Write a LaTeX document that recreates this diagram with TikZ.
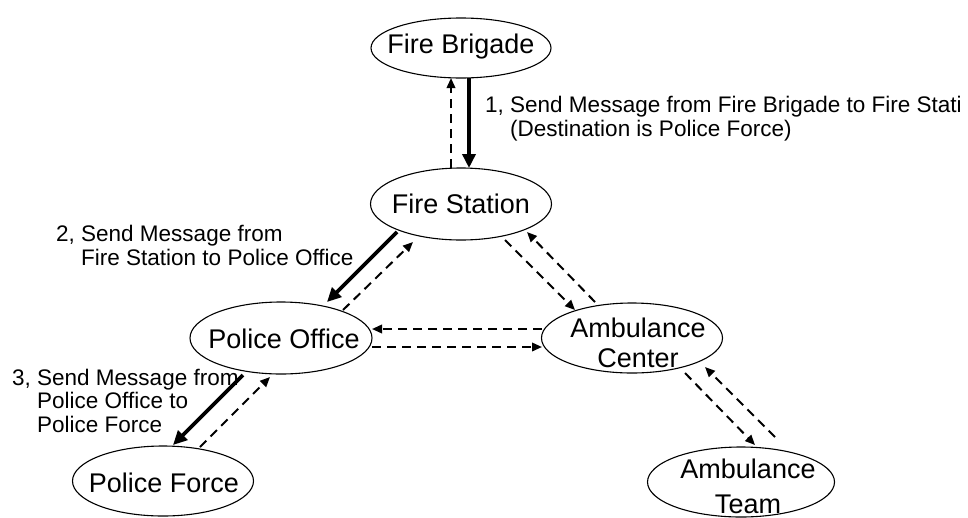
\documentclass[tikz,border=0pt]{standalone}
\usepackage{fontspec}
\setmainfont{Liberation Sans}
\usetikzlibrary{arrows.meta,calc,shapes.geometric}
\tikzset{
  ell/.style={draw, ellipse, line width=1.1pt, inner sep=0pt},
  ntext/.style={inner sep=0pt, anchor=base, align=center, font=\fontsize{27}{30}\selectfont},
  lbl/.style={inner sep=0pt, anchor=base west, align=left, font=\fontsize{22.5}{23.5}\selectfont},
  msg/.style={line width=3.6pt, -{Triangle[length=14pt,width=13pt]}},
  ack/.style={line width=2pt, dash pattern=on 9pt off 6pt, -{Triangle[length=10pt,width=8.5pt]}},
}
\begin{document}
\begin{tikzpicture}[x=1pt,y=-1pt]
\useasboundingbox (0,0) rectangle (968,517);
% ellipses
\node[ell, minimum width=180, minimum height=60] (FB) at (461,48) {};
\node[ell, minimum width=181, minimum height=72] (FS) at (461,204) {};
\node[ell, minimum width=182, minimum height=72] (PO) at (281,338) {};
\node[ell, minimum width=181, minimum height=70] (AC) at (632,338) {};
\node[ell, minimum width=181, minimum height=70] (PF) at (163,481) {};
\node[ell, minimum width=187, minimum height=70] (AT) at (741,482) {};
% texts (base anchor = baseline of the last line)
\node[ntext] (FBt) at (461,53) {Fire Brigade};
\node[ntext] (FSt) at (461,213) {Fire Station};
\node[ntext] (POt) at (284,348) {Police Office};
\node[ntext] (PFt) at (164,492) {Police Force};
\node[ntext, font=\fontsize{27}{30}\selectfont] (ACt) at (638,367) {Ambulance\\Center};
\node[ntext, font=\fontsize{27}{35}\selectfont] (ATt) at (748,513) {Ambulance\\Team};
% labels
\node[lbl] (L1) at (485,136) {1, Send Message from Fire Brigade to Fire Stati\\\phantom{1, }(Destination is Police Force)};
\node[lbl] (L2) at (56,265) {2, Send Message from\\\phantom{2, }Fire Station to Police Office};
\node[lbl] (L3) at (12,432) {3, Send Message from\\\phantom{3, }Police Office to\\\phantom{3, }Police Force};
% connectors
\draw[msg] ($(FB.center)+(8,30)$) -- ($(FS.center)+(8,-36)$);
\draw[ack] ($(FS.center)+(-10,-36)$) -- ($(FB.center)+(-10,30)$);
\draw[msg] ($(FS.center)+(-64,28)$) -- ($(PO.center)+(46,-36)$);
\draw[ack] ($(PO.center)+(62,-28)$) -- ($(FS.center)+(-48,38)$);
\draw[ack] ($(FS.center)+(44,36)$) -- ($(AC.center)+(-57,-28)$);
\draw[ack] ($(AC.center)+(-37,-36)$) -- ($(FS.center)+(66,28)$);
\draw[ack] ($(AC.center)+(-90,-9)$) -- ($(PO.center)+(91,-9)$);
\draw[ack] ($(PO.center)+(91,9)$) -- ($(AC.center)+(-90,9)$);
\draw[msg] ($(PO.center)+(-38,37)$) -- ($(PF.center)+(10,-36)$);
\draw[ack] ($(PF.center)+(37,-34)$) -- ($(PO.center)+(-11,39)$);
\draw[ack] ($(AC.center)+(53,35)$) -- ($(AT.center)+(14,-37)$);
\draw[ack] ($(AT.center)+(34,-45)$) -- ($(AC.center)+(73,29)$);
\end{tikzpicture}
\end{document}
